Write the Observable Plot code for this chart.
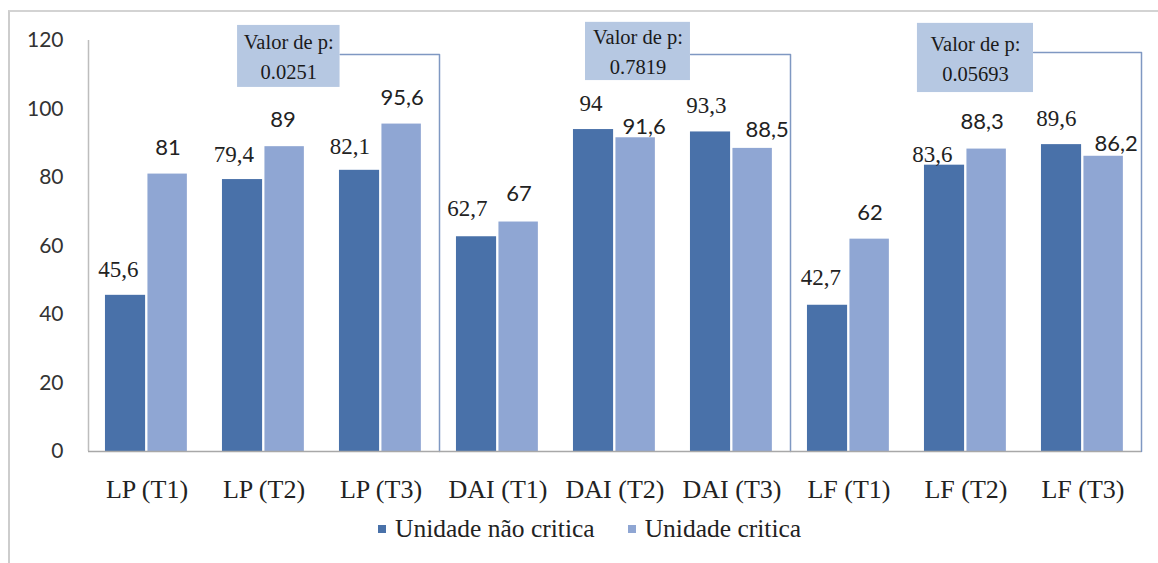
<!DOCTYPE html>
<html>
<head>
<meta charset="utf-8">
<script src="https://cdn.jsdelivr.net/npm/d3@7"></script>
<script src="https://cdn.jsdelivr.net/npm/@observablehq/plot@0.6"></script>
<style>
  body { margin: 0; background: #fff; width: 1158px; height: 563px; overflow: hidden; position: relative; }
  #frame { position: absolute; left: 8px; top: 10px; width: 1200px; height: 600px;
           border-top: 2px solid #d3d3d3; border-left: 2px solid #cdcdcd; pointer-events: none; }
  #chart { position: absolute; left: 0; top: 0; }
  #chart svg g[aria-label^="y-axis"] text { font-family: Lato, sans-serif; font-size: 21px; fill: #333; }
  #chart svg g[aria-label^="x-axis"] text { font-family: "Liberation Serif", "Times New Roman", serif; font-size: 26px; fill: #222; }
  #legend { position: absolute; top: 514px; left: 378px; display: flex; align-items: center;
            font-family: "Liberation Serif", "Times New Roman", serif; font-size: 25.5px; color: #222; white-space: nowrap; }
  #legend .sw { display: inline-block; width: 8px; height: 8px; margin-right: 9px; }
  #legend .item { display: flex; align-items: center; margin-right: 33px; }
</style>
</head>
<body>
<div id="chart"></div>
<div id="legend"></div>
<div id="frame"></div>
<script>
// ---- data ----
const categories = ["LP (T1)", "LP (T2)", "LP (T3)", "DAI (T1)", "DAI (T2)", "DAI (T3)", "LF (T1)", "LF (T2)", "LF (T3)"];
const naoCritica = [45.6, 79.4, 82.1, 62.7, 94, 93.3, 42.7, 83.6, 89.6];
const critica = [81, 89, 95.6, 67, 91.6, 88.5, 62, 88.3, 86.2];
const seriesNames = ["Unidade não critica", "Unidade critica"];
const pValues = ["0.0251", "0.7819", "0.05693"];
const yTicks = [0, 20, 40, 60, 80, 100, 120];

// ---- styles / layout ----
const W = 1158, H = 510, mL = 88, mR = 17, mT = 40, mB = 59;
const xDomain = [-0.5, 8.5], yDomain = [0, 120];
const pxX = (xDomain[1] - xDomain[0]) / (W - mL - mR);   // data units per pixel (x)
const pxY = (yDomain[1] - yDomain[0]) / (H - mT - mB);   // data units per pixel (y)
const colors = ["#4971a9", "#8fa6d3"];
const bracketColor = "#7f98c2";
const boxFill = "#b6c8e2";
const serif = "Liberation Serif, Times New Roman, serif";
// label placement nudges (pixels), as hand-placed in the original
const darkNudge = {dx: [-7.5, -9, -10, -9.5, -3, -4.5, -7, -12.5, -5.5], dy: [26, 25, 24, 28, 26, 26, 28, 11, 26]};
const lightNudge = {dx: [0, -2, 0, 0, 8, 14, 0, -5, 12], dy: [26, 27, 26, 28, 11, 18, 26, 27, 12]};
// p-value annotation boxes (in chart coordinates) and bracket geometry
const pBoxes = [
  {x1: 0.774, x2: 1.65, y1: 106.3, y2: 124.4, by: 115.9, edge: 2.5},
  {x1: 3.748, x2: 4.645, y1: 108.3, y2: 125.3, by: 115.9, edge: 5.5},
  {x1: 6.585, x2: 7.577, y1: 104.8, y2: 125.0, by: 116.5, edge: 8.5}
];

const fmt = v => String(v).replace(".", ",");
const dark = categories.map((c, i) => ({i, c, v: naoCritica[i]}));
const light = categories.map((c, i) => ({i, c, v: critica[i]}));
const bracketPts = pBoxes.flatMap((b, k) => [
  {g: k, x: b.x2, y: b.by},
  {g: k, x: b.edge, y: b.by},
  {g: k, x: b.edge, y: 0}
]);

const plot = Plot.plot({
  width: W,
  height: H,
  marginLeft: mL,
  marginRight: mR,
  marginTop: mT,
  marginBottom: mB,
  style: {background: "transparent", overflow: "visible"},
  x: {type: "linear", domain: xDomain, ticks: d3.range(categories.length),
      tickFormat: i => categories[i], tickSize: 0, tickPadding: 28, label: null},
  y: {domain: yDomain, ticks: yTicks, tickSize: 0, tickPadding: 25, label: null},
  marks: [
    Plot.rect(dark, {x1: d => d.i - 0.355, x2: d => d.i - 0.012, y1: d => 0, y2: "v", fill: colors[0]}),
    Plot.rect(light, {x1: d => d.i + 0.008, x2: d => d.i + 0.345, y1: d => 0, y2: "v", fill: colors[1]}),
    Plot.text(dark, {x: d => d.i - 0.18 + darkNudge.dx[d.i] * pxX, y: d => d.v + darkNudge.dy[d.i] * pxY,
                     text: d => fmt(d.v), fontFamily: serif, fontSize: 23, fill: "#222"}),
    Plot.text(light, {x: d => d.i + 0.18 + lightNudge.dx[d.i] * pxX, y: d => d.v + lightNudge.dy[d.i] * pxY,
                      text: d => fmt(d.v), fontFamily: "Lato", fontSize: 22, fill: "#222"}),
    Plot.ruleX([-0.5], {y1: 0, y2: 120, stroke: "#bdbdbd", strokeWidth: 1.5}),
    Plot.line(bracketPts, {x: "x", y: "y", z: "g", stroke: bracketColor, strokeWidth: 1.5}),
    Plot.ruleY([0], {x1: -0.5, x2: 8.5, stroke: "#a8a8a8", strokeWidth: 1.5}),
    Plot.rect(pBoxes, {x1: "x1", x2: "x2", y1: "y1", y2: "y2", fill: boxFill}),
    Plot.text(pBoxes, {x: d => (d.x1 + d.x2) / 2, y: d => (d.y1 + d.y2) / 2, text: () => "Valor de p:",
                       dy: -14, fontFamily: serif, fontSize: 20.5, fill: "#1a1a1a"}),
    Plot.text(pBoxes, {x: d => (d.x1 + d.x2) / 2, y: d => (d.y1 + d.y2) / 2, text: (d, k) => pValues[k],
                       dy: 16, fontFamily: serif, fontSize: 20.5, fill: "#1a1a1a"})
  ]
});
document.getElementById("chart").append(plot);

// legend
const legend = document.getElementById("legend");
seriesNames.forEach((name, k) => {
  const item = document.createElement("span");
  item.className = "item";
  const sw = document.createElement("span");
  sw.className = "sw";
  sw.style.background = colors[k];
  item.append(sw, document.createTextNode(name));
  legend.append(item);
});
</script>
</body>
</html>
